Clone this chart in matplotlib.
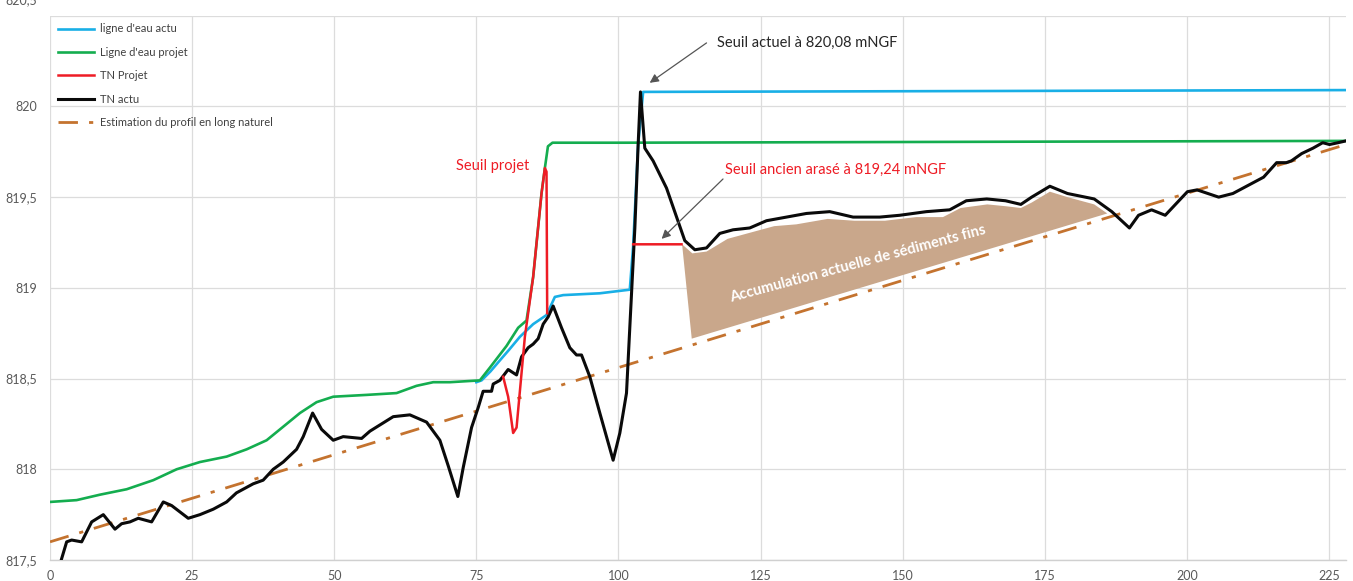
import numpy as np
import matplotlib
matplotlib.use("Agg")
import matplotlib.pyplot as plt
from matplotlib.patches import Polygon
from matplotlib.transforms import ScaledTranslation

# ---- data (distance in m, elevation in mNGF) ----
ligne_actu_x = [75.0, 75.92, 77.5, 79.14, 80.8, 82.66, 85.0, 87.35, 88.82, 90.28, 96.73,
                102.0, 102.59, 103.47, 104.35, 228.0]
ligne_actu_y = [818.48, 818.49, 818.54, 818.60, 818.66, 818.73, 818.80, 818.85, 818.95, 818.96, 818.97,
                818.99, 819.23, 819.79, 820.08, 820.09]

ligne_projet_x = [0.0, 4.69, 8.79, 13.49, 18.17, 22.28, 26.38, 31.08, 34.6, 38.11, 41.63,
                  43.97, 46.9, 49.83, 55.69, 60.97, 64.49, 67.42, 70.35, 75.62, 77.38,
                  80.32, 82.36, 83.83, 85.0, 86.47, 87.06, 87.6, 88.4, 101.0, 228.0]
ligne_projet_y = [817.82, 817.83, 817.86, 817.89, 817.94, 818.00, 818.04, 818.07, 818.11, 818.16, 818.25,
                  818.31, 818.37, 818.40, 818.41, 818.42, 818.46, 818.48, 818.48, 818.49, 818.56,
                  818.68, 818.78, 818.82, 819.06, 819.52, 819.66, 819.78, 819.80, 819.80, 819.81]

tn_projet_x = [79.72, 80.6, 81.48, 82.08, 83.54, 85.0, 86.47, 87.06, 87.35, 87.47,
               np.nan, 102.6, 111.1]
tn_projet_y = [818.51, 818.40, 818.20, 818.23, 818.73, 819.06, 819.52, 819.66, 819.64, 818.86,
               np.nan, 819.24, 819.24]

tn_actu_x = [1.5, 2.93, 3.81, 5.57, 7.33, 9.38, 11.43, 12.6, 14.07, 15.53, 17.88, 19.93, 21.4,
             24.32, 26.38, 28.72, 31.08, 32.8, 35.75, 37.5, 39.27, 41.03, 43.38, 44.55, 46.2,
             47.78, 49.83, 51.58, 54.82, 56.28, 60.38, 63.31, 66.25, 68.59, 70.05, 71.75, 72.7,
             74.16, 75.33, 76.2, 77.68, 77.97, 79.14, 80.6, 82.08, 82.96, 84.12, 85.0, 85.88,
             86.76, 87.64, 88.52, 89.99, 91.45, 92.63, 93.51, 94.97, 96.73, 99.07, 100.25,
             101.42, 102.0, 102.89, 103.47, 103.88, 104.64, 106.1, 108.46, 111.68, 113.44,
             115.5, 117.83, 120.17, 123.1, 126.05, 129.56, 133.08, 137.18, 141.28, 145.97,
             149.49, 154.18, 158.28, 161.2, 164.8, 168.1, 170.8, 172.7, 175.9, 179.0, 183.7,
             186.8, 189.9, 191.5, 193.8, 196.2, 200.1, 201.8, 205.6, 208.1, 210.5, 213.5,
             215.8, 217.5, 218.4, 220.2, 222.2, 223.9, 225.1, 226.6, 228.0]
tn_actu_y = [817.45, 817.60, 817.61, 817.60, 817.71, 817.75, 817.67, 817.70, 817.71, 817.73, 817.71,
             817.82, 817.80, 817.73, 817.75, 817.78, 817.82, 817.87, 817.92, 817.94, 818.00,
             818.04, 818.11, 818.18, 818.31, 818.22, 818.16, 818.18, 818.17, 818.21, 818.29,
             818.30, 818.26, 818.16, 818.02, 817.85, 818.01, 818.23, 818.34, 818.43, 818.43,
             818.47, 818.49, 818.55, 818.52, 818.62, 818.67, 818.69, 818.72, 818.80, 818.84,
             818.90, 818.78, 818.67, 818.63, 818.63, 818.51, 818.31, 818.05, 818.20, 818.42,
             818.78, 819.33, 819.79, 820.08, 819.77, 819.70, 819.55, 819.26, 819.21, 819.22,
             819.30, 819.32, 819.33, 819.37, 819.39, 819.41, 819.42, 819.39, 819.39, 819.40,
             819.42, 819.43, 819.48, 819.49, 819.48, 819.46, 819.50, 819.56, 819.52, 819.49,
             819.42, 819.33, 819.40, 819.43, 819.40, 819.53, 819.54, 819.50, 819.52, 819.56,
             819.61, 819.69, 819.69, 819.70, 819.74, 819.77, 819.80, 819.79, 819.80, 819.81]

profil_x = [0.0, 228.0]
profil_y = [817.60, 819.79]

# fine-sediment deposit: upper edge, then the two lower corners
sed_x = [111.2, 113.0, 115.5, 119.2, 122.7, 127.4, 131.3, 136.8, 141.5, 146.9, 152.4,
         157.1, 160.2, 164.9, 168.1, 170.8, 172.7, 175.9, 179.0, 183.7, 186.0]
sed_top = [819.24, 819.19, 819.20, 819.27, 819.30, 819.34, 819.35, 819.38, 819.37, 819.37, 819.39,
           819.39, 819.44, 819.46, 819.45, 819.44, 819.47, 819.53, 819.50, 819.46, 819.41]
sed_bottom_x = [186.0, 112.9]
sed_bottom_y = [819.41, 818.72]

x_ticks = [0, 25, 50, 75, 100, 125, 150, 175, 200, 225]
y_ticks = [817.5, 818.0, 818.5, 819.0, 819.5, 820.0, 820.5]
y_ticklabels = ["817,5", "818", "818,5", "819", "819,5", "820", "820,5"]

C_CYAN = "#19afe6"
C_GREEN = "#14ad4f"
C_RED = "#ee1c25"
C_BLACK = "#0a0a0a"
C_BROWN = "#c4732f"
C_SED = "#c9a78b"
C_TXT = "#595959"

plt.rcParams["font.family"] = ["Lato", "DejaVu Sans"]

W, H = 1353, 581
fig = plt.figure(figsize=(W / 100, H / 100), dpi=100)
ax = fig.add_axes([50 / W, 1 - 560 / H, 1296 / W, (560 - 15.7) / H])

ax.set_xlim(0, 228)
ax.set_ylim(817.5, 820.5)

# deposit polygon
poly = Polygon(list(zip(sed_x + sed_bottom_x, sed_top + sed_bottom_y)),
               closed=True, facecolor=C_SED, edgecolor="none", zorder=1)
ax.add_patch(poly)

ax.plot(profil_x, profil_y, color=C_BROWN, lw=2.0, dashes=(7, 4, 1.5, 4),
        label="Estimation du profil en long naturel", zorder=2)
ax.plot(ligne_actu_x, ligne_actu_y, color=C_CYAN, lw=1.9, label="ligne d'eau actu", zorder=3)
ax.plot(ligne_projet_x, ligne_projet_y, color=C_GREEN, lw=1.9, label="Ligne d'eau projet", zorder=3)
ax.plot(tn_actu_x, tn_actu_y, color=C_BLACK, lw=2.2, label="TN actu", zorder=4)
ax.plot(tn_projet_x, tn_projet_y, color=C_RED, lw=1.8, label="TN Projet", zorder=5)

handles, labels = ax.get_legend_handles_labels()
order = ["ligne d'eau actu", "Ligne d'eau projet", "TN Projet", "TN actu",
         "Estimation du profil en long naturel"]
hmap = dict(zip(labels, handles))
leg = ax.legend([hmap[k] for k in order], order, loc="upper left",
                bbox_to_anchor=(0.0, 1.0), frameon=False, fontsize=8,
                handlelength=3.3, handletextpad=0.5, labelspacing=1.12,
                borderaxespad=0.3)
for t in leg.get_texts():
    t.set_color("#404040")

# grid and axes styling
ax.set_xticks(x_ticks)
ax.set_yticks(y_ticks)
ax.set_yticklabels(y_ticklabels)
ax.grid(True, color="#dcdcdc", lw=0.9)
ax.set_axisbelow(True)
for s in ["top", "right", "left"]:
    ax.spines[s].set_visible(False)
ax.spines["bottom"].set_color("#d0d0d0")
ax.spines["bottom"].set_linewidth(1.0)
ax.tick_params(length=0, labelsize=9, colors=C_TXT, pad=9)
ax.tick_params(axis="x", pad=7)

# the top tick label sits partly above the figure edge
top_lbl = ax.get_yticklabels()[-1]
top_lbl.set_transform(top_lbl.get_transform() + ScaledTranslation(0, 0.17, fig.dpi_scale_trans))

# annotations
arrow_kw = dict(arrowstyle="-|>", color="#555555", lw=0.9, mutation_scale=13,
                shrinkA=0, shrinkB=0)
ax.annotate("", xy=(105.5, 820.13), xytext=(115.5, 820.35), arrowprops=arrow_kw, zorder=6)
ax.text(117.3, 820.35, "Seuil actuel à 820,08 mNGF", fontsize=10.5, color="#262626",
        ha="left", va="center", zorder=6)

ax.annotate("", xy=(107.6, 819.27), xytext=(118.4, 819.60), arrowprops=arrow_kw, zorder=6)
ax.text(118.7, 819.65, "Seuil ancien arasé à 819,24 mNGF", fontsize=10.5, color=C_RED,
        ha="left", va="center", zorder=6)

ax.text(71.5, 819.67, "Seuil projet", fontsize=10.5, color=C_RED, ha="left", va="center", zorder=6)

ax.text(142.1, 819.13, "Accumulation actuelle de sédiments fins", fontsize=10.6,
        fontweight="bold", color="white", rotation=15, rotation_mode="anchor",
        ha="center", va="center", zorder=6)

fig.savefig("out.png", dpi=100)
